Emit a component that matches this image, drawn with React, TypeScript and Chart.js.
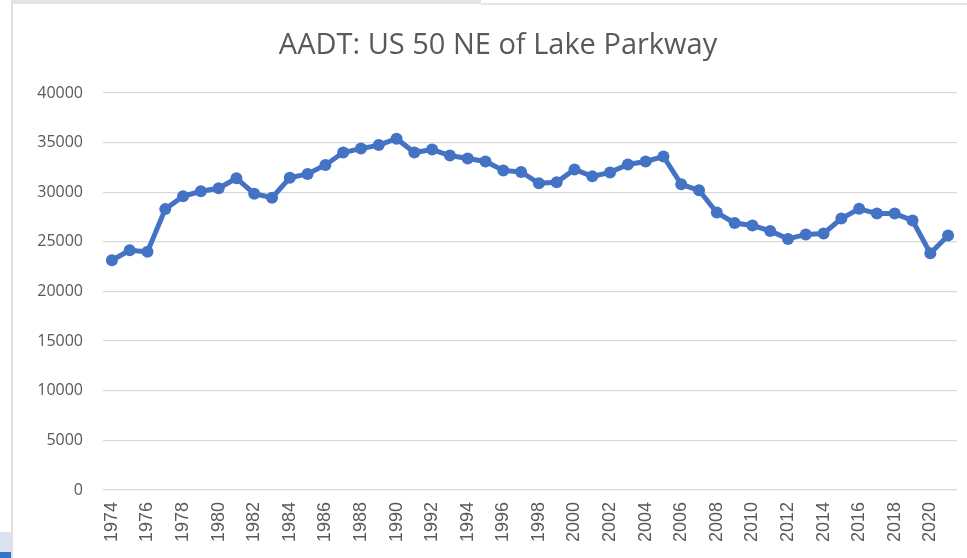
import React, { useEffect, useRef } from "react";
import { Chart, registerables } from "chart.js";

Chart.register(...registerables);

const years: string[] = [
  "1974", "1975", "1976", "1977", "1978", "1979", "1980", "1981", "1982", "1983",
  "1984", "1985", "1986", "1987", "1988", "1989", "1990", "1991", "1992", "1993",
  "1994", "1995", "1996", "1997", "1998", "1999", "2000", "2001", "2002", "2003",
  "2004", "2005", "2006", "2007", "2008", "2009", "2010", "2011", "2012", "2013",
  "2014", "2015", "2016", "2017", "2018", "2019", "2020", "2021",
];

const aadt: number[] = [
  23150, 24150, 24000, 28300, 29600, 30100, 30400, 31400, 29850, 29450,
  31450, 31850, 32750, 34000, 34400, 34750, 35400, 34000, 34300, 33700,
  33400, 33100, 32200, 32050, 30900, 31000, 32300, 31600, 32000, 32800,
  33100, 33600, 30800, 30200, 27950, 26900, 26650, 26100, 25300, 25750,
  25850, 27350, 28330, 27850, 27850, 27150, 23850, 25650,
];

const yTicks: number[] = [0, 5000, 10000, 15000, 20000, 25000, 30000, 35000, 40000];

const titleText = "AADT: US 50 NE of Lake Parkway";

export default function App() {
  const ref = useRef<HTMLCanvasElement>(null);

  useEffect(() => {
    if (!ref.current) return;
    const titlePlugin = {
      id: "customTitle",
      afterDraw(chart: any) {
        const ctx = chart.ctx;
        ctx.save();
        ctx.font = "29px 'Open Sans', sans-serif";
        ctx.fillStyle = "#595959";
        ctx.textAlign = "center";
        ctx.textBaseline = "alphabetic";
        ctx.fillText(titleText, 498, 54);
        ctx.restore();
      },
    };
    const chart = new Chart(ref.current, {
      type: "line",
      data: {
        labels: years,
        datasets: [
          {
            label: "AADT",
            data: aadt,
            borderColor: "#4472C4",
            backgroundColor: "#4472C4",
            borderWidth: 5,
            pointRadius: 6,
            pointBorderWidth: 0,
            pointBackgroundColor: "#4472C4",
            tension: 0,
          },
        ],
      },
      options: {
        animation: false,
        responsive: false,
        maintainAspectRatio: false,
        layout: { padding: { top: 93, right: 10, left: 0, bottom: 0 } },
        plugins: {
          legend: { display: false },
          title: { display: false },
          tooltip: { enabled: false },
        },
        scales: {
          x: {
            offset: true,
            grid: { display: false, drawTicks: false },
            border: { display: false },
            ticks: {
              autoSkip: false,
              minRotation: 90,
              maxRotation: 90,
              padding: 12,
              color: "#595959",
              font: { family: "'Liberation Sans', Arial, sans-serif", size: 18 },
              callback: (_v: any, i: number) => (i % 2 === 0 ? years[i] : ""),
            },
            afterFit: (scale: any) => {
              scale.height = 68;
              scale.paddingLeft = 0;
              scale.paddingRight = 0;
            },
          },
          y: {
            min: 0,
            max: 40000,
            afterBuildTicks: (scale: any) => {
              scale.ticks = yTicks.map((v) => ({ value: v }));
            },
            grid: { color: "#d9d9d9", lineWidth: 1.3, drawTicks: false },
            border: { display: false },
            ticks: {
              padding: 20,
              color: "#595959",
              font: { family: "'Open Sans', sans-serif", size: 16 },
              callback: (v: any) => String(v),
            },
            afterFit: (scale: any) => {
              scale.width = 103;
              scale.paddingTop = 0;
              scale.paddingBottom = 0;
            },
          },
        },
      },
      plugins: [titlePlugin],
    });
    return () => chart.destroy();
  }, []);

  return (
    <div style={{ position: "fixed", left: 0, top: 0, width: 967, height: 558, background: "#ffffff", overflow: "hidden" }}>
      <canvas ref={ref} width={967} height={558} style={{ position: "absolute", left: 0, top: 0, width: 967, height: 558 }} />
      <div style={{ position: "absolute", left: 11, top: 0, width: 470, height: 4, background: "#e3e3e3" }} />
      <div style={{ position: "absolute", left: 481, top: 3, width: 486, height: 2, background: "#e6e6e6" }} />
      <div style={{ position: "absolute", left: 11, top: 0, width: 2, height: 558, background: "#e0e0e0" }} />
      <div style={{ position: "absolute", left: 0, top: 532, width: 11, height: 20, background: "#dae3f3" }} />
      <div style={{ position: "absolute", left: 0, top: 552, width: 11, height: 6, background: "#3475c8" }} />
    </div>
  );
}
